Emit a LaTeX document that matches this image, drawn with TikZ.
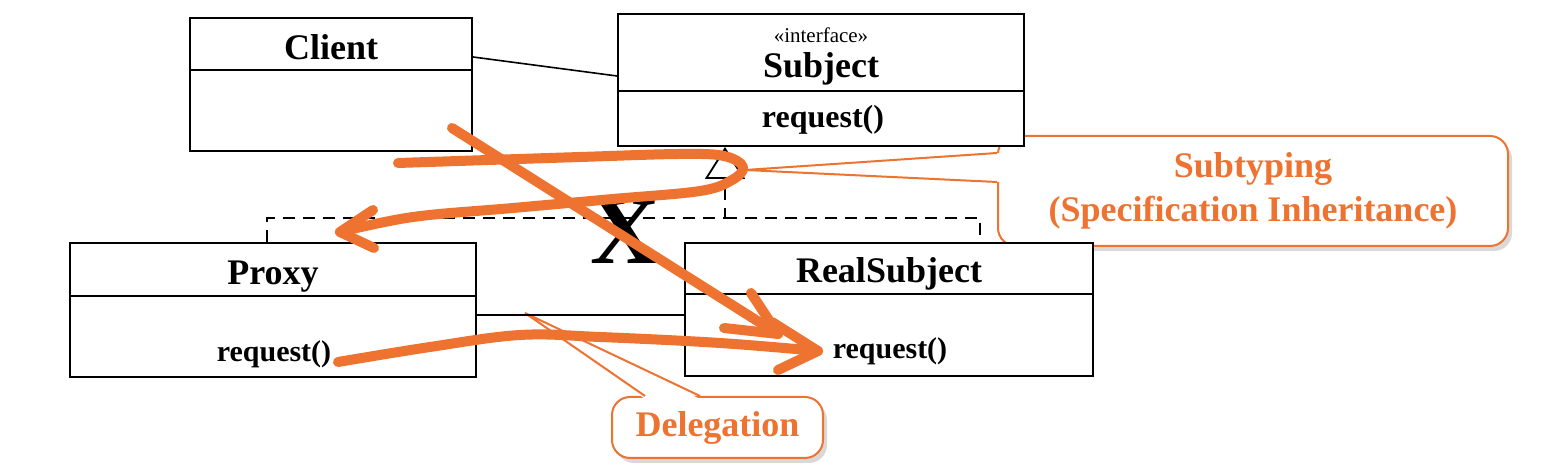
\documentclass[tikz,border=0pt]{standalone}
\usepackage{fontspec}
\setmainfont{Liberation Serif}
\usetikzlibrary{arrows.meta,calc,shadows}
\definecolor{annot}{HTML}{EE7230}
\tikzset{
	classbox/.style={draw=black,line width=1pt,fill=white,inner sep=0pt},
	classname/.style={font=\fontsize{18}{20}\selectfont\bfseries,anchor=base},
	opname/.style={font=\fontsize{15}{17}\selectfont\bfseries,anchor=base},
	stereo/.style={font=\fontsize{10.5}{12}\selectfont,anchor=base},
	divider/.style={line width=1pt},
	assoc/.style={line width=0.8pt},
	realize/.style={line width=0.9pt,dash pattern=on 6pt off 4pt,-{Triangle[open,length=16pt,width=20pt]}},
	callout/.style={draw=annot,line width=1pt,fill=white,rounded corners=9pt,text=annot,align=center,
		font=\fontsize{18}{22}\selectfont\bfseries,drop shadow={shadow xshift=2pt,shadow yshift=-2.5pt,opacity=0.3}},
	pointer/.style={draw=annot,line width=1pt},
	scribble/.style={draw=annot,line width=5pt,line cap=round,line join=round}
}
\begin{document}
\begin{tikzpicture}[x=0.5pt,y=-0.5pt]
	\useasboundingbox (0,0) rectangle (1558,474);

	\node[callout,minimum width=255pt,minimum height=55pt] (subtyping) at (1253,191) {Subtyping\\(Specification Inheritance)};
	\node[callout,minimum width=105.5pt,minimum height=30.5pt] (delegation) at (717.5,427.5) {Delegation};
	\coordinate (subtip) at (745,170);
	\coordinate (deltip) at (525,313);
	\fill[white] ($(subtyping.west)+(3,-38)$) -- (subtip) -- ($(subtyping.west)+(3,-9)$) -- cycle;
	\draw[pointer] ($(subtyping.west)+(0,-38)$) -- (subtip) -- ($(subtyping.west)+(0,-9)$);
	\fill[white] ($(delegation.north)+(-72.5,3)$) -- (deltip) -- ($(delegation.north)+(-17.5,3)$) -- cycle;
	\draw[pointer] ($(delegation.north)+(-72.5,0)$) -- (deltip) -- ($(delegation.north)+(-17.5,0)$);

	\node[classbox,minimum width=141pt,minimum height=66.5pt] (client) at (331,84.5) {};
	\node[classname] (clientname) at (331,60) {Client};
	\draw[divider] ($(client.north west)+(0,53)$) -- ($(client.north east)+(0,53)$);

	\node[classbox,minimum width=203pt,minimum height=66pt] (subject) at (821,80) {};
	\node[stereo] (subjectstereo) at (821,43) {«interface»};
	\node[classname] (subjectname) at (821,78) {Subject};
	\draw[divider] ($(subject.north west)+(0,78)$) -- ($(subject.north east)+(0,78)$);
	\node[opname,font=\fontsize{16}{18}\selectfont\bfseries] (subjectop) at (823,128) {request()};

	\node[classbox,minimum width=203pt,minimum height=67pt] (proxy) at (273,310) {};
	\node[classname] (proxyname) at (273,285) {Proxy};
	\draw[divider] ($(proxy.north west)+(0,54)$) -- ($(proxy.north east)+(0,54)$);
	\node[opname] (proxyop) at (274,362) {request()};

	\node[classbox,minimum width=204pt,minimum height=66.5pt] (realsubject) at (889,309.5) {};
	\node[classname] (realsubjectname) at (889,283) {RealSubject};
	\draw[divider] ($(realsubject.north west)+(0,52)$) -- ($(realsubject.north east)+(0,52)$);
	\node[opname] (realsubjectop) at (890,359) {request()};

	\draw[assoc] ($(client.north east)+(0,40)$) -- ($(subject.north west)+(0,63)$);
	\draw[assoc] ($(proxy.north east)+(0,73)$) -- ($(realsubject.north west)+(0,73)$);

	\coordinate (gen) at (725,218);
	\draw[realize] ($(proxy.north west)+(198,0)$) |- (gen) -- (gen |- subject.south);
	\draw[realize,-] (gen) -| ($(realsubject.north west)+(296,0)$);

	\node[font=\fontsize{48}{50}\selectfont\bfseries,anchor=base] (xmark) at (625,264) {X};

	\draw[scribble] (452,128) -- (778,334);
	\draw[scribble] (751,293) -- (778,334) -- (724,328);
	\draw[scribble] plot[smooth,tension=0.6] coordinates {(398,163) (580,157) (680,154) (724,156) (743,167) (732,180) (700,191) (613,199) (513,208) (413,217) (340,232)};
	\draw[scribble] (373,210) -- (340,232) -- (374,248);
	\draw[scribble] plot[smooth,tension=0.6] coordinates {(338,362) (430,347) (520,335) (600,337) (720,343) (818,351)};
	\draw[scribble] (772,322) -- (818,351) -- (778,370);
\end{tikzpicture}
\end{document}
